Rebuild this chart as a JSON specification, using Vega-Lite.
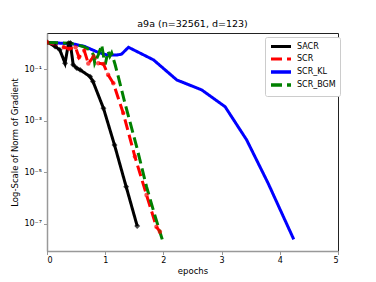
{
  "$schema": "https://vega.github.io/schema/vega-lite/v6.json",
  "width": 291,
  "height": 218,
  "autosize": "none",
  "padding": {"left": 47, "top": 33, "right": 38, "bottom": 31},
  "background": "white",
  "title": {"text": "a9a (n=32561, d=123)", "font": "DejaVu Sans", "fontSize": 9.5, "fontWeight": "normal", "color": "black", "offset": 5},
  "config": {
    "view": {"stroke": "#222", "strokeWidth": 1},
    "axis": {"labelFont": "DejaVu Sans", "titleFont": "DejaVu Sans", "labelFontSize": 8, "titleFontSize": 8.5, "titleFontWeight": "normal", "labelColor": "black", "titleColor": "black", "domainColor": "#999", "tickColor": "#999", "grid": false, "tickSize": 3.5, "domainWidth": 1.5}
  },
  "data": {"values": [
    {"series": "SACR", "epoch": 0.0, "lv": 0.06},
    {"series": "SACR", "epoch": 0.14, "lv": -0.11},
    {"series": "SACR", "epoch": 0.22, "lv": -0.24},
    {"series": "SACR", "epoch": 0.31, "lv": -0.76},
    {"series": "SACR", "epoch": 0.37, "lv": 0.02},
    {"series": "SACR", "epoch": 0.40, "lv": 0.03},
    {"series": "SACR", "epoch": 0.45, "lv": -0.82},
    {"series": "SACR", "epoch": 0.51, "lv": -0.95},
    {"series": "SACR", "epoch": 0.57, "lv": -1.02},
    {"series": "SACR", "epoch": 0.74, "lv": -1.28},
    {"series": "SACR", "epoch": 0.79, "lv": -1.47},
    {"series": "SACR", "epoch": 0.97, "lv": -2.51},
    {"series": "SACR", "epoch": 1.16, "lv": -3.94},
    {"series": "SACR", "epoch": 1.36, "lv": -5.56},
    {"series": "SACR", "epoch": 1.55, "lv": -7.09},
    {"series": "SCR", "epoch": 0.0, "lv": 0.06},
    {"series": "SCR", "epoch": 0.29, "lv": -0.14},
    {"series": "SCR", "epoch": 0.38, "lv": -0.20},
    {"series": "SCR", "epoch": 0.49, "lv": -0.14},
    {"series": "SCR", "epoch": 0.55, "lv": -0.53},
    {"series": "SCR", "epoch": 0.64, "lv": -0.27},
    {"series": "SCR", "epoch": 0.71, "lv": -0.77},
    {"series": "SCR", "epoch": 0.80, "lv": -0.50},
    {"series": "SCR", "epoch": 0.88, "lv": -0.76},
    {"series": "SCR", "epoch": 0.97, "lv": -0.79},
    {"series": "SCR", "epoch": 1.05, "lv": -1.21},
    {"series": "SCR", "epoch": 1.14, "lv": -1.54},
    {"series": "SCR", "epoch": 1.31, "lv": -2.70},
    {"series": "SCR", "epoch": 1.51, "lv": -4.39},
    {"series": "SCR", "epoch": 1.71, "lv": -5.88},
    {"series": "SCR", "epoch": 1.88, "lv": -7.12},
    {"series": "SCR", "epoch": 1.94, "lv": -7.31},
    {"series": "SCR_KL", "epoch": 0.0, "lv": 0.05},
    {"series": "SCR_KL", "epoch": 0.45, "lv": -0.01},
    {"series": "SCR_KL", "epoch": 0.65, "lv": -0.11},
    {"series": "SCR_KL", "epoch": 0.85, "lv": -0.31},
    {"series": "SCR_KL", "epoch": 1.03, "lv": -0.44},
    {"series": "SCR_KL", "epoch": 1.20, "lv": -0.44},
    {"series": "SCR_KL", "epoch": 1.28, "lv": -0.41},
    {"series": "SCR_KL", "epoch": 1.40, "lv": -0.14},
    {"series": "SCR_KL", "epoch": 1.83, "lv": -0.63},
    {"series": "SCR_KL", "epoch": 2.23, "lv": -1.41},
    {"series": "SCR_KL", "epoch": 2.66, "lv": -1.80},
    {"series": "SCR_KL", "epoch": 3.06, "lv": -2.45},
    {"series": "SCR_KL", "epoch": 3.43, "lv": -3.74},
    {"series": "SCR_KL", "epoch": 3.80, "lv": -5.43},
    {"series": "SCR_KL", "epoch": 4.24, "lv": -7.61},
    {"series": "SCR_BGM", "epoch": 0.0, "lv": 0.05},
    {"series": "SCR_BGM", "epoch": 0.40, "lv": 0.02},
    {"series": "SCR_BGM", "epoch": 0.62, "lv": -0.11},
    {"series": "SCR_BGM", "epoch": 0.74, "lv": -0.24},
    {"series": "SCR_BGM", "epoch": 0.80, "lv": -0.44},
    {"series": "SCR_BGM", "epoch": 0.82, "lv": -0.76},
    {"series": "SCR_BGM", "epoch": 0.88, "lv": -0.44},
    {"series": "SCR_BGM", "epoch": 0.94, "lv": -0.05},
    {"series": "SCR_BGM", "epoch": 0.97, "lv": -0.47},
    {"series": "SCR_BGM", "epoch": 1.00, "lv": -0.81},
    {"series": "SCR_BGM", "epoch": 1.05, "lv": -0.30},
    {"series": "SCR_BGM", "epoch": 1.08, "lv": -0.49},
    {"series": "SCR_BGM", "epoch": 1.11, "lv": -0.36},
    {"series": "SCR_BGM", "epoch": 1.17, "lv": -0.81},
    {"series": "SCR_BGM", "epoch": 1.23, "lv": -1.33},
    {"series": "SCR_BGM", "epoch": 1.34, "lv": -2.32},
    {"series": "SCR_BGM", "epoch": 1.54, "lv": -4.00},
    {"series": "SCR_BGM", "epoch": 1.71, "lv": -5.56},
    {"series": "SCR_BGM", "epoch": 1.86, "lv": -6.73},
    {"series": "SCR_BGM", "epoch": 1.98, "lv": -7.61}
  ]},
  "transform": [{"calculate": "pow(10, datum.lv)", "as": "value"}],
  "encoding": {
    "x": {"field": "epoch", "type": "quantitative", "title": "epochs", "scale": {"domain": [0, 5], "nice": false},
      "axis": {"values": [0, 1, 2, 3, 4, 5], "titlePadding": 2, "labelPadding": 2}},
    "y": {"field": "value", "type": "quantitative", "title": "Log-Scale of Norm of Gradient",
      "scale": {"type": "log", "domain": [8.7e-9, 2.6], "nice": false},
      "axis": {"values": [0.1, 0.001, 0.00001, 0.0000001], "labelExpr": "datum.value > 0.01 ? '10⁻¹' : datum.value > 0.0001 ? '10⁻³' : datum.value > 0.000001 ? '10⁻⁵' : '10⁻⁷'", "titlePadding": 4, "labelPadding": 2}}
  },
  "layer": [
    {
      "mark": {"type": "line", "strokeWidth": 3, "clip": true},
      "encoding": {
        "color": {"field": "series", "type": "nominal",
          "scale": {"domain": ["SACR", "SCR", "SCR_KL", "SCR_BGM"], "range": ["#000000", "#ff0000", "#0000ff", "#008000"]},
          "legend": {"title": null, "orient": "none", "legendX": 218, "legendY": 4, "symbolType": "M-1,0H4", "symbolSize": 64, "symbolStrokeWidth": 3.5, "labelFont": "DejaVu Sans", "labelFontSize": 8, "labelColor": "black", "strokeColor": "#cccccc", "fillColor": "white", "padding": 4, "cornerRadius": 2, "rowPadding": -3, "labelOffset": 16}},
        "strokeDash": {"field": "series", "type": "nominal",
          "scale": {"domain": ["SACR", "SCR", "SCR_KL", "SCR_BGM"], "range": [[1, 0], [11, 5], [1, 0], [11, 5]]},
          "legend": {"title": null, "orient": "none", "legendX": 218, "legendY": 4, "symbolType": "M-1,0H4", "symbolSize": 64, "symbolStrokeWidth": 3.5, "labelFont": "DejaVu Sans", "labelFontSize": 8, "labelColor": "black", "strokeColor": "#cccccc", "fillColor": "white", "padding": 4, "cornerRadius": 2, "rowPadding": -3, "labelOffset": 16}},
        "strokeWidth": {"field": "series", "type": "nominal", "scale": {"domain": ["SACR", "SCR", "SCR_KL", "SCR_BGM"], "range": [3, 3.5, 3, 3.5]}, "legend": null}
      }
    },
    {
      "transform": [{"filter": "datum.series === 'SACR'"}],
      "mark": {"type": "point", "shape": "diamond", "filled": true, "size": 35, "color": "black", "clip": true},
      "encoding": {}
    },
    {
      "transform": [{"filter": "datum.series === 'SCR'"}],
      "mark": {"type": "point", "shape": "circle", "filled": true, "size": 20, "color": "#ff0000", "clip": true},
      "encoding": {}
    }
  ]
}
